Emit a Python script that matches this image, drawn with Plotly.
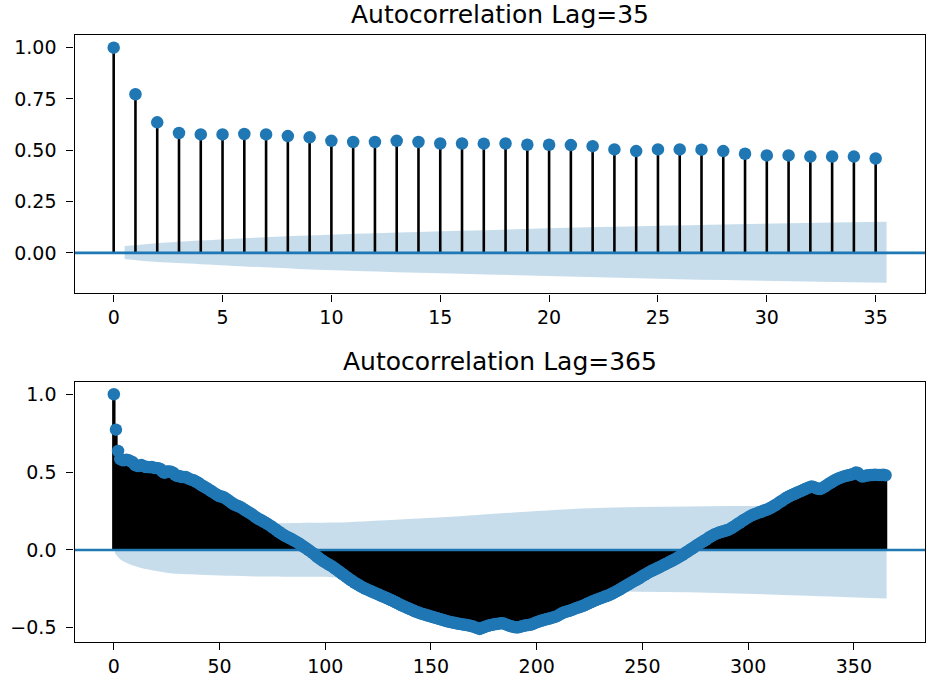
import plotly.graph_objects as go

# ---------------- data ----------------
lags_35 = list(range(36))
acf_35 = [1.000, 0.773, 0.636, 0.584, 0.577, 0.577, 0.579, 0.577, 0.569, 0.563,
          0.546, 0.540, 0.540, 0.546, 0.540, 0.533, 0.533, 0.532, 0.533, 0.527,
          0.527, 0.525, 0.520, 0.504, 0.496, 0.504, 0.504, 0.503, 0.496, 0.483,
          0.475, 0.475, 0.469, 0.469, 0.469, 0.460]

lags_365 = list(range(366))
acf_365 = [
    1.000, 0.773, 0.636, 0.584, 0.577, 0.577, 0.579, 0.577, 0.569, 0.563,
    0.546, 0.540, 0.540, 0.546, 0.540, 0.533, 0.533, 0.532, 0.533, 0.527,
    0.527, 0.525, 0.520, 0.504, 0.496, 0.504, 0.504, 0.503, 0.496, 0.483,
    0.475, 0.475, 0.469, 0.469, 0.469, 0.460, 0.455, 0.450, 0.446, 0.438,
    0.430, 0.420, 0.412, 0.404, 0.396, 0.388, 0.379, 0.370, 0.362, 0.352,
    0.345, 0.343, 0.338, 0.330, 0.320, 0.311, 0.300, 0.292, 0.286, 0.281,
    0.274, 0.266, 0.257, 0.248, 0.240, 0.232, 0.222, 0.212, 0.203, 0.196,
    0.189, 0.181, 0.173, 0.165, 0.156, 0.146, 0.137, 0.127, 0.117, 0.107,
    0.099, 0.091, 0.084, 0.077, 0.070, 0.062, 0.055, 0.047, 0.038, 0.029,
    0.019, 0.010, 0.001, -0.009, -0.019, -0.029, -0.042, -0.052, -0.062, -0.071,
    -0.080, -0.088, -0.096, -0.104, -0.113, -0.123, -0.133, -0.143, -0.153, -0.163,
    -0.173, -0.183, -0.193, -0.202, -0.211, -0.219, -0.227, -0.235, -0.242, -0.249,
    -0.255, -0.261, -0.267, -0.273, -0.279, -0.285, -0.291, -0.297, -0.303, -0.309,
    -0.315, -0.321, -0.327, -0.334, -0.341, -0.348, -0.355, -0.361, -0.367, -0.373,
    -0.379, -0.385, -0.391, -0.397, -0.402, -0.407, -0.411, -0.415, -0.419, -0.423,
    -0.427, -0.431, -0.435, -0.439, -0.443, -0.447, -0.451, -0.455, -0.459, -0.462,
    -0.465, -0.468, -0.471, -0.474, -0.476, -0.478, -0.480, -0.482, -0.485, -0.488,
    -0.492, -0.497, -0.502, -0.507, -0.502, -0.496, -0.491, -0.487, -0.483, -0.480,
    -0.477, -0.475, -0.473, -0.471, -0.471, -0.475, -0.481, -0.486, -0.490, -0.494,
    -0.496, -0.497, -0.494, -0.490, -0.487, -0.484, -0.482, -0.480, -0.476, -0.470,
    -0.464, -0.459, -0.455, -0.451, -0.447, -0.443, -0.440, -0.436, -0.432, -0.428,
    -0.422, -0.414, -0.406, -0.400, -0.396, -0.392, -0.388, -0.383, -0.377, -0.372,
    -0.368, -0.363, -0.358, -0.352, -0.345, -0.339, -0.333, -0.327, -0.321, -0.316,
    -0.311, -0.306, -0.301, -0.296, -0.291, -0.285, -0.278, -0.271, -0.264, -0.256,
    -0.248, -0.240, -0.232, -0.224, -0.216, -0.208, -0.200, -0.193, -0.185, -0.177,
    -0.168, -0.160, -0.152, -0.144, -0.137, -0.130, -0.124, -0.117, -0.111, -0.104,
    -0.097, -0.090, -0.083, -0.076, -0.069, -0.062, -0.055, -0.047, -0.039, -0.031,
    -0.022, -0.013, -0.004, 0.005, 0.014, 0.023, 0.032, 0.041, 0.049, 0.057,
    0.066, 0.075, 0.084, 0.092, 0.099, 0.105, 0.110, 0.115, 0.119, 0.123,
    0.127, 0.132, 0.139, 0.148, 0.157, 0.166, 0.175, 0.184, 0.193, 0.201,
    0.209, 0.217, 0.224, 0.230, 0.235, 0.240, 0.245, 0.250, 0.255, 0.260,
    0.266, 0.273, 0.281, 0.289, 0.298, 0.307, 0.316, 0.325, 0.334, 0.342,
    0.349, 0.355, 0.361, 0.367, 0.373, 0.379, 0.385, 0.391, 0.397, 0.403,
    0.407, 0.404, 0.398, 0.393, 0.392, 0.397, 0.405, 0.414, 0.423, 0.432,
    0.440, 0.448, 0.455, 0.461, 0.466, 0.471, 0.475, 0.478, 0.481, 0.485,
    0.490, 0.497, 0.494, 0.480, 0.472, 0.474, 0.478, 0.480, 0.481, 0.482,
    0.483, 0.482, 0.481, 0.482, 0.483, 0.480,
]

# confidence band edges
band35_x = [0.5, 2, 4, 8.5, 16, 25.5, 35.5]
band35_up = [0.033, 0.047, 0.060, 0.083, 0.108, 0.133, 0.152]
band35_lo = [-0.030, -0.045, -0.055, -0.078, -0.102, -0.127, -0.146]

band365_x = [0.5, 3, 9, 25, 41, 72, 88, 104, 133, 167, 180, 225, 272, 320, 365.5]
band365_up = [0.02, 0.06, 0.10, 0.145, 0.16, 0.171, 0.174, 0.176, 0.195, 0.22,
              0.232, 0.268, 0.28, 0.283, 0.286]
band365_lo = [-0.02, -0.06, -0.10, -0.146, -0.159, -0.171, -0.172, -0.175, -0.196,
              -0.22, -0.23, -0.262, -0.272, -0.29, -0.312]

titles = ["Autocorrelation Lag=35", "Autocorrelation Lag=365"]
xticks_top = list(range(0, 36, 5))
xticks_bot = list(range(0, 351, 50))
yticks_top = [0.0, 0.25, 0.5, 0.75, 1.0]
yticks_bot = [-0.5, 0.0, 0.5, 1.0]

# ---------------- style ----------------
W, H = 944, 682
BLUE = "#1f77b4"
BAND = "rgba(31,119,180,0.25)"
FONT = "DejaVu Sans"

xr_top = [-1.8, 37.28]
yr_top = [-0.197, 1.063]
xr_bot = [-18.6, 383.8]
yr_bot = [-0.589, 1.077]

fig = go.Figure()


def add_panel(lags, acf, bx, bup, blo, xr, xa, ya, stem_w):
    # confidence band
    fig.add_trace(go.Scatter(x=bx, y=blo, mode="lines", line=dict(width=0, shape="spline"),
                             hoverinfo="skip", showlegend=False, xaxis=xa, yaxis=ya))
    fig.add_trace(go.Scatter(x=bx, y=bup, mode="lines", line=dict(width=0, shape="spline"),
                             fill="tonexty", fillcolor=BAND, hoverinfo="skip",
                             showlegend=False, xaxis=xa, yaxis=ya))
    # stems
    sx, sy = [], []
    for l, v in zip(lags, acf):
        sx += [l, l, None]
        sy += [0, v, None]
    fig.add_trace(go.Scatter(x=sx, y=sy, mode="lines", line=dict(color="black", width=stem_w),
                             hoverinfo="skip", showlegend=False, xaxis=xa, yaxis=ya))
    # zero line
    fig.add_trace(go.Scatter(x=xr, y=[0, 0], mode="lines", line=dict(color=BLUE, width=2.6),
                             hoverinfo="skip", showlegend=False, xaxis=xa, yaxis=ya))
    # markers
    fig.add_trace(go.Scatter(x=lags, y=acf, mode="markers",
                             marker=dict(color=BLUE, size=12.5, line=dict(width=0)),
                             showlegend=False, xaxis=xa, yaxis=ya))


add_panel(lags_35, acf_35, band35_x, band35_up, band35_lo, xr_top, "x", "y", 2.6)
add_panel(lags_365, acf_365, band365_x, band365_up, band365_lo, xr_bot, "x2", "y2", 3.4)

L, R = 74.5 / W, 925.3 / W
top_dom = [1 - 293.3 / H, 1 - 34.7 / H]
bot_dom = [1 - 641.7 / H, 1 - 382.3 / H]

axis_common = dict(showline=True, mirror=True, linecolor="black", linewidth=1.4,
                   ticks="outside", ticklen=7, tickwidth=1.4, tickcolor="black",
                   showgrid=False, zeroline=False,
                   tickfont=dict(family=FONT, size=19, color="black"))

fig.update_layout(
    width=W, height=H,
    margin=dict(l=0, r=0, t=0, b=0),
    paper_bgcolor="white", plot_bgcolor="white",
    showlegend=False,
    xaxis=dict(domain=[L, R], range=xr_top, anchor="y", tickvals=xticks_top, **axis_common),
    yaxis=dict(domain=top_dom, range=yr_top, anchor="x", tickvals=yticks_top,
               tickformat=".2f", ticklabelstandoff=6, **axis_common),
    xaxis2=dict(domain=[L, R], range=xr_bot, anchor="y2", tickvals=xticks_bot, **axis_common),
    yaxis2=dict(domain=bot_dom, range=yr_bot, anchor="x2", tickvals=yticks_bot,
                tickformat=".1f", ticklabelstandoff=6, **axis_common),
    annotations=[
        dict(text=titles[0], x=(L + R) / 2, y=1 - 31 / H, xref="paper", yref="paper",
             xanchor="center", yanchor="bottom", showarrow=False,
             font=dict(family=FONT, size=25, color="black")),
        dict(text=titles[1], x=(L + R) / 2, y=1 - 377.7 / H, xref="paper", yref="paper",
             xanchor="center", yanchor="bottom", showarrow=False,
             font=dict(family=FONT, size=25, color="black")),
    ],
)

fig.write_html("out.html")
